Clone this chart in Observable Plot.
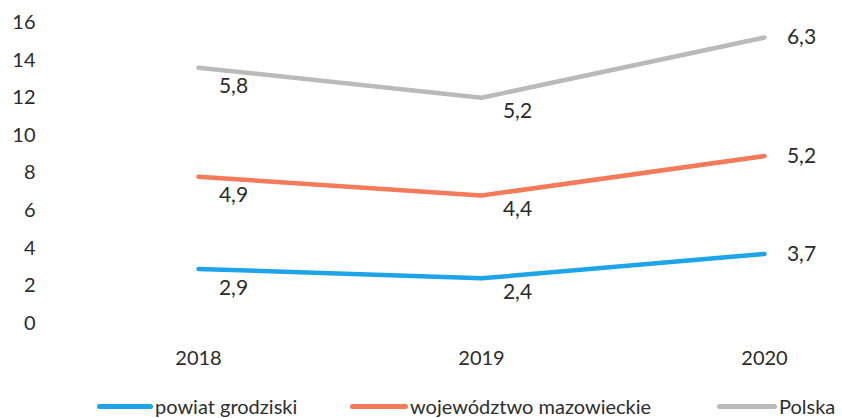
<!DOCTYPE html>
<html>
<head>
<meta charset="utf-8">
<script src="https://cdn.jsdelivr.net/npm/d3@7"></script>
<script src="https://cdn.jsdelivr.net/npm/@observablehq/plot@0.6"></script>
<style>
  body { margin: 0; background: #fff; font-family: Lato, "Open Sans", sans-serif; }
  #wrap { position: relative; width: 842px; height: 418px; overflow: hidden; }
  #legend { position: absolute; left: 0; top: 394px; width: 842px; height: 24px; font-size: 20px; color: #2e2e2e; }
  .item { position: absolute; top: 0; display: flex; align-items: center; height: 24px; white-space: nowrap; }
  .sw { display: inline-block; height: 5px; border-radius: 3px; margin-right: 2px; }
</style>
</head>
<body>
<div id="wrap"><div id="chart"></div><div id="legend"></div></div>
<script>
const years = [2018, 2019, 2020];
const seriesNames = ["powiat grodziski", "województwo mazowieckie", "Polska"];
const powiat = [2.9, 2.4, 3.7];
const mazowieckie = [4.9, 4.4, 5.2];
const polska = [5.8, 5.2, 6.3];
const colors = ["#1ea4e9", "#f47b5a", "#bababa"];
const yTicks = [0, 2, 4, 6, 8, 10, 12, 14, 16];

const seriesValues = [powiat, mazowieckie, polska];
const rows = [];
years.forEach((yr, i) => {
  let cum = 0;
  seriesValues.forEach((vals, s) => {
    cum += vals[i];
    rows.push({year: yr, series: seriesNames[s], value: vals[i], top: +cum.toFixed(2)});
  });
});
const fmt = v => v.toFixed(1).replace(".", ",");
const labelDy = {2018: 19, 2019: 14, 2020: 0};
const labelDx = {2018: 35, 2019: 36, 2020: 37};

const marks = [
  Plot.axisY({ticks: yTicks, tickSize: 0, tickPadding: 5, fontSize: 20, fill: "#2b2b2b", label: null}),
  Plot.axisX({ticks: years, tickSize: 0, tickPadding: 10, fontSize: 20, fill: "#2b2b2b", label: null, tickFormat: d => String(d)}),
  Plot.line(rows, {x: "year", y: "top", z: "series", stroke: "series", strokeWidth: 4.5, strokeLinecap: "round", strokeLinejoin: "round"})
];
for (const yr of years) {
  marks.push(Plot.text(rows.filter(d => d.year === yr), {
    x: "year", y: "top", text: d => fmt(d.value),
    dx: labelDx[yr], dy: labelDy[yr], fontSize: 21, fill: "#2b2b2b", textAnchor: "middle"
  }));
}

const chart = Plot.plot({
  width: 842,
  height: 370,
  marginLeft: 40,
  marginRight: 20,
  marginTop: 10,
  marginBottom: 30,
  style: {fontFamily: "Lato, 'Open Sans', sans-serif", background: "#fff"},
  x: {type: "linear", domain: [2018, 2020], range: [198, 764]},
  y: {domain: [0, 16], range: [323, 22]},
  color: {domain: seriesNames, range: colors},
  marks
});
document.getElementById("chart").appendChild(chart);

const legendPos = [[97, 56], [350, 58], [717, 60]];
const legend = document.getElementById("legend");
seriesNames.forEach((name, i) => {
  const it = document.createElement("div");
  it.className = "item";
  it.style.left = legendPos[i][0] + "px";
  const sw = document.createElement("span");
  sw.className = "sw";
  sw.style.width = legendPos[i][1] + "px";
  sw.style.background = colors[i];
  it.appendChild(sw);
  const t = document.createElement("span");
  t.textContent = name;
  it.appendChild(t);
  legend.appendChild(it);
});
</script>
</body>
</html>
